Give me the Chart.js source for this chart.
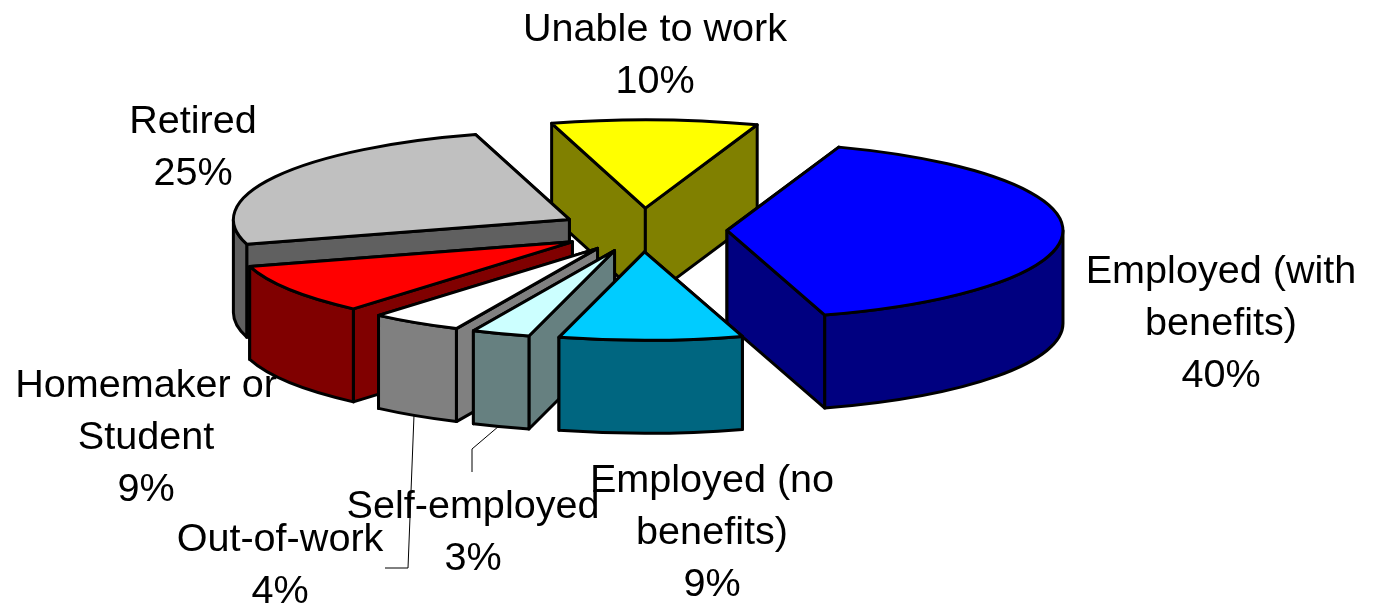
<!DOCTYPE html>
<html><head><meta charset="utf-8">
<style>html,body{margin:0;padding:0;background:#fff}canvas{display:block}</style>
<script src="https://cdn.jsdelivr.net/npm/chart.js@4"></script>
</head><body><canvas id="c" width="1373" height="608"></canvas>
<script>
const categories = ['Unable to work','Employed (with benefits)','Employed (no benefits)','Self-employed','Out-of-work','Homemaker or Student','Retired'];
const values = [9.9,39.9,8.8,2.8,4.4,9.2,25];
const topColors = ['#FFFF00','#0000FF','#00CCFF','#CCFFFF','#FFFFFF','#FF0000','#C0C0C0'];
const wallColors = ['#808000','#000080','#006680','#668080','#808080','#800000','#606060'];
const labelLines = [['Unable to work','10%'],['Employed (with','benefits)','40%'],['Employed (no','benefits)','9%'],['Self-employed','3%'],['Out-of-work','4%'],['Homemaker or','Student','9%'],['Retired','25%']];
const labelPos = [[655,41],[1221,283],[712,492],[473,518],[280,551],[146,397],[193,133]];
const leaders = [[[414,415],[408,568],[385,568]],[[499,426],[472,449],[472,472]]];
const SQUASH=0.26, EXPLODE=84, DEPTH=93, RADIUS=336, LINE_H=52;

const pie3d = {
  id:'pie3d',
  beforeDatasetDraw(chart){
    const ctx=chart.ctx, arcs=chart.getDatasetMeta(0).data;
    const order=arcs.map((a,i)=>i).sort((p,q)=>{
      const m=a=>Math.sin((a.startAngle+a.endAngle)/2);
      return m(arcs[p])-m(arcs[q]);
    });
    ctx.save();
    ctx.lineWidth=3; ctx.lineJoin='round'; ctx.strokeStyle='#000';
    for(const i of order){
      const a=arcs[i], R=a.outerRadius, b=340*SQUASH;
      const mid=(a.startAngle+a.endAngle)/2;
      const cx=a.x+Math.cos(mid)*EXPLODE, cy=a.y+Math.sin(mid)*EXPLODE*SQUASH;
      const pt=t=>[cx+R*Math.cos(t),cy+b*Math.sin(t)];
      const walls=[a.startAngle,a.endAngle].map(pt).sort((p,q)=>p[1]-q[1]);
      ctx.fillStyle=wallColors[i];
      for(const w of walls){
        ctx.beginPath();ctx.moveTo(cx,cy);ctx.lineTo(w[0],w[1]);ctx.lineTo(w[0],w[1]+DEPTH);ctx.lineTo(cx,cy+DEPTH);ctx.closePath();ctx.fill();ctx.stroke();
      }
      // outer wall: front-facing part of the rim only
      const tau=Math.PI*2;
      for(const k of [-1,0,1]){
        const s=Math.max(a.startAngle,k*tau), e=Math.min(a.endAngle,k*tau+Math.PI);
        if(e>s){
          ctx.beginPath();ctx.ellipse(cx,cy,R,b,0,s,e);ctx.ellipse(cx,cy+DEPTH,R,b,0,e,s,true);ctx.closePath();ctx.fill();ctx.stroke();
        }
      }
      ctx.fillStyle=topColors[i];
      ctx.beginPath();ctx.moveTo(cx,cy);ctx.ellipse(cx,cy,R,b,0,a.startAngle,a.endAngle);ctx.closePath();ctx.fill();ctx.stroke();
    }
    ctx.restore();
    return false;
  },
  afterDatasetsDraw(chart){
    const ctx=chart.ctx;
    ctx.save();
    ctx.strokeStyle='#000';ctx.lineWidth=1;
    for(const l of leaders){ctx.beginPath();l.forEach((p,i)=>i?ctx.lineTo(p[0],p[1]):ctx.moveTo(p[0],p[1]));ctx.stroke();}
    ctx.fillStyle='#000';ctx.font='39.6px "Liberation Sans", Arial, sans-serif';ctx.textAlign='center';ctx.textBaseline='alphabetic';
    labelLines.forEach((ls,i)=>ls.forEach((t,j)=>ctx.fillText(t,labelPos[i][0],labelPos[i][1]+j*LINE_H)));
    ctx.restore();
  }
};
new Chart(document.getElementById('c'),{
  type:'pie',
  data:{labels:categories,datasets:[{data:values,backgroundColor:topColors,radius:RADIUS,borderWidth:0}]},
  options:{responsive:false,animation:false,rotation:-16.2,
    layout:{padding:{left:0,right:87,top:0,bottom:148}},
    plugins:{legend:{display:false},tooltip:{enabled:false}}},
  plugins:[pie3d]
});
</script></body></html>
